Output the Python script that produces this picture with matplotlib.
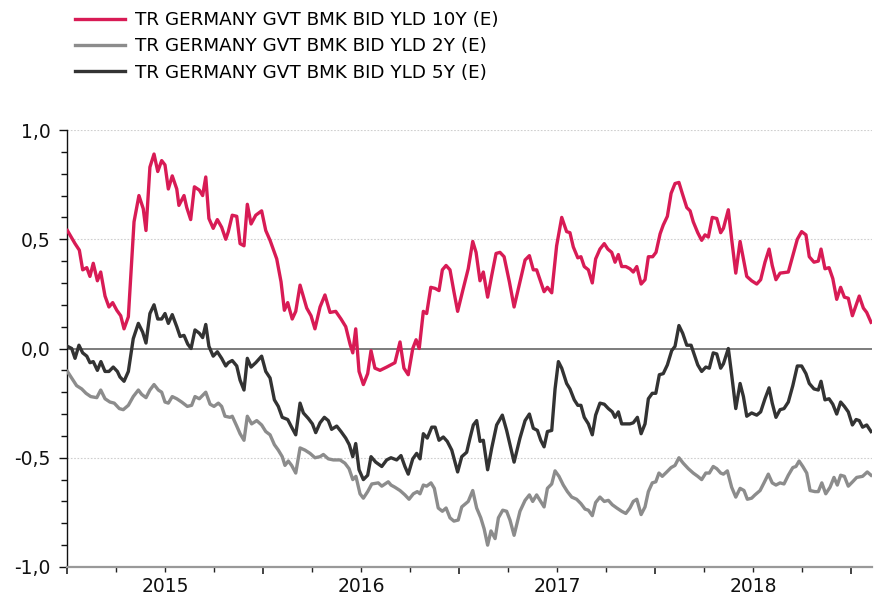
import numpy as np
import matplotlib
matplotlib.use("Agg")
import matplotlib.pyplot as plt
from matplotlib.ticker import FixedLocator, MultipleLocator
import matplotlib.transforms as mtransforms

plt.rcParams['font.family'] = ['DejaVu Sans']

# time as years since 2015-01-01 (weekly-ish turning points)
t10 = [0.002, 0.041, 0.063, 0.080, 0.101, 0.117, 0.134, 0.155, 0.172, 0.194, 0.214, 0.233, 0.254, 0.274,
       0.291, 0.313, 0.342, 0.367, 0.389, 0.403, 0.423, 0.444, 0.463, 0.483, 0.500, 0.517, 0.537, 0.560,
       0.571, 0.597, 0.611, 0.631, 0.650, 0.675, 0.692, 0.708, 0.724, 0.746, 0.767, 0.789, 0.810, 0.823,
       0.843, 0.866, 0.883, 0.903, 0.920, 0.939, 0.963, 0.993, 1.014, 1.036, 1.070, 1.092, 1.109, 1.126,
       1.149, 1.167, 1.189, 1.223, 1.245, 1.265, 1.291, 1.316, 1.342, 1.371, 1.398, 1.422, 1.444, 1.458,
       1.473, 1.490, 1.512, 1.534, 1.551, 1.571, 1.597, 1.631, 1.673, 1.699, 1.719, 1.741, 1.764, 1.781,
       1.797, 1.818, 1.835, 1.856, 1.878, 1.898, 1.915, 1.934, 1.954, 1.974, 1.993, 2.019, 2.047, 2.070,
       2.087, 2.107, 2.124, 2.146, 2.167, 2.189, 2.209, 2.230, 2.257, 2.281, 2.311, 2.337, 2.359, 2.379,
       2.396, 2.417, 2.434, 2.451, 2.473, 2.498, 2.524, 2.549, 2.566, 2.583, 2.606, 2.622, 2.639, 2.660,
       2.680, 2.697, 2.719, 2.741, 2.759, 2.779, 2.796, 2.813, 2.830, 2.851, 2.872, 2.889, 2.907, 2.929,
       2.949, 2.966, 2.988, 3.005, 3.026, 3.042, 3.063, 3.082, 3.102, 3.122, 3.139, 3.162, 3.179, 3.195,
       3.218, 3.238, 3.255, 3.272, 3.292, 3.315, 3.335, 3.349, 3.374, 3.391, 3.412, 3.434, 3.451, 3.468,
       3.493, 3.519, 3.539, 3.561, 3.582, 3.598, 3.617, 3.638, 3.680, 3.703, 3.726, 3.748, 3.770, 3.787,
       3.811, 3.833, 3.847, 3.867, 3.888, 3.907, 3.927, 3.947, 3.966, 3.986, 4.007, 4.042, 4.063, 4.080,
       4.102]
y10 = [0.54, 0.48, 0.45, 0.36, 0.37, 0.33, 0.39, 0.31, 0.35, 0.24, 0.19, 0.21, 0.175, 0.15,
       0.09, 0.145, 0.58, 0.70, 0.64, 0.54, 0.83, 0.89, 0.81, 0.86, 0.84, 0.73, 0.79, 0.73,
       0.655, 0.70, 0.645, 0.59, 0.74, 0.725, 0.70, 0.785, 0.595, 0.55, 0.59, 0.555, 0.50, 0.535,
       0.61, 0.605, 0.48, 0.47, 0.66, 0.57, 0.61, 0.63, 0.54, 0.495, 0.41, 0.305, 0.175, 0.21,
       0.135, 0.17, 0.29, 0.185, 0.15, 0.09, 0.19, 0.245, 0.165, 0.17, 0.135, 0.10, 0.02, -0.02,
       0.09, -0.105, -0.165, -0.115, -0.01, -0.09, -0.10, -0.085, -0.065, 0.03, -0.09, -0.12, 0.0, 0.04,
       0.0, 0.17, 0.16, 0.28, 0.275, 0.265, 0.36, 0.38, 0.36, 0.26, 0.17, 0.265, 0.365, 0.49,
       0.44, 0.31, 0.35, 0.235, 0.335, 0.435, 0.44, 0.42, 0.305, 0.19, 0.305, 0.405, 0.425, 0.36,
       0.36, 0.305, 0.26, 0.28, 0.255, 0.47, 0.60, 0.535, 0.53, 0.465, 0.415, 0.42, 0.375, 0.36,
       0.30, 0.41, 0.455, 0.48, 0.455, 0.44, 0.395, 0.43, 0.375, 0.375, 0.365, 0.35, 0.375, 0.295,
       0.315, 0.42, 0.42, 0.44, 0.525, 0.565, 0.605, 0.71, 0.755, 0.76, 0.71, 0.645, 0.63, 0.58,
       0.53, 0.495, 0.52, 0.51, 0.60, 0.595, 0.53, 0.55, 0.635, 0.50, 0.345, 0.49, 0.41, 0.33,
       0.31, 0.295, 0.315, 0.395, 0.455, 0.38, 0.315, 0.345, 0.35, 0.425, 0.50, 0.535, 0.52, 0.42,
       0.395, 0.40, 0.455, 0.365, 0.37, 0.32, 0.225, 0.28, 0.235, 0.23, 0.15, 0.24, 0.185, 0.165,
       0.12]

t2 = [0.002, 0.024, 0.049, 0.075, 0.097, 0.121, 0.152, 0.172, 0.194, 0.219, 0.241, 0.267, 0.287, 0.313,
      0.338, 0.364, 0.381, 0.403, 0.423, 0.444, 0.466, 0.483, 0.500, 0.517, 0.537, 0.560, 0.585, 0.614,
      0.636, 0.653, 0.675, 0.708, 0.730, 0.750, 0.772, 0.789, 0.806, 0.832, 0.843, 0.866, 0.883, 0.903,
      0.920, 0.942, 0.968, 0.993, 1.014, 1.036, 1.058, 1.078, 1.098, 1.112, 1.129, 1.146, 1.167, 1.189,
      1.214, 1.240, 1.265, 1.291, 1.308, 1.333, 1.359, 1.393, 1.418, 1.439, 1.458, 1.474, 1.495, 1.512,
      1.534, 1.555, 1.588, 1.606, 1.639, 1.653, 1.673, 1.699, 1.724, 1.745, 1.767, 1.787, 1.801, 1.818,
      1.835, 1.857, 1.874, 1.894, 1.915, 1.934, 1.954, 1.974, 1.996, 2.014, 2.047, 2.070, 2.090, 2.111,
      2.128, 2.146, 2.163, 2.184, 2.201, 2.223, 2.243, 2.260, 2.281, 2.311, 2.337, 2.359, 2.376, 2.396,
      2.417, 2.434, 2.451, 2.473, 2.490, 2.510, 2.532, 2.553, 2.575, 2.600, 2.622, 2.643, 2.660, 2.680,
      2.697, 2.719, 2.741, 2.762, 2.782, 2.805, 2.830, 2.851, 2.872, 2.889, 2.907, 2.929, 2.949, 2.966,
      2.986, 3.004, 3.020, 3.037, 3.060, 3.082, 3.102, 3.122, 3.144, 3.170, 3.195, 3.218, 3.238, 3.259,
      3.277, 3.297, 3.315, 3.335, 3.349, 3.369, 3.391, 3.412, 3.434, 3.454, 3.471, 3.493, 3.510, 3.536,
      3.556, 3.578, 3.598, 3.617, 3.638, 3.658, 3.680, 3.703, 3.719, 3.735, 3.754, 3.774, 3.791, 3.816,
      3.833, 3.851, 3.871, 3.893, 3.913, 3.930, 3.947, 3.966, 3.986, 4.008, 4.029, 4.059, 4.083, 4.102]
y2 = [-0.105, -0.135, -0.17, -0.185, -0.205, -0.22, -0.225, -0.19, -0.23, -0.245, -0.25, -0.275, -0.28, -0.26,
      -0.22, -0.19, -0.21, -0.225, -0.19, -0.165, -0.19, -0.20, -0.245, -0.25, -0.22, -0.23, -0.245, -0.265,
      -0.26, -0.22, -0.23, -0.20, -0.255, -0.265, -0.25, -0.265, -0.31, -0.315, -0.31, -0.355, -0.39, -0.42,
      -0.31, -0.345, -0.33, -0.35, -0.38, -0.395, -0.44, -0.465, -0.495, -0.535, -0.515, -0.535, -0.57, -0.455,
      -0.465, -0.48, -0.50, -0.495, -0.485, -0.505, -0.51, -0.51, -0.525, -0.55, -0.60, -0.585, -0.665, -0.685,
      -0.655, -0.62, -0.615, -0.63, -0.61, -0.625, -0.635, -0.65, -0.67, -0.69, -0.665, -0.655, -0.665, -0.625,
      -0.63, -0.615, -0.64, -0.73, -0.745, -0.73, -0.775, -0.79, -0.785, -0.725, -0.70, -0.65, -0.73, -0.775,
      -0.825, -0.90, -0.835, -0.87, -0.775, -0.74, -0.745, -0.785, -0.855, -0.745, -0.695, -0.67, -0.70, -0.67,
      -0.70, -0.725, -0.64, -0.62, -0.56, -0.585, -0.625, -0.655, -0.68, -0.69, -0.71, -0.735, -0.74, -0.765,
      -0.705, -0.68, -0.70, -0.695, -0.715, -0.73, -0.745, -0.755, -0.73, -0.70, -0.69, -0.76, -0.725, -0.655,
      -0.615, -0.61, -0.57, -0.585, -0.565, -0.545, -0.535, -0.50, -0.525, -0.55, -0.57, -0.585, -0.60, -0.57,
      -0.57, -0.54, -0.55, -0.57, -0.575, -0.56, -0.635, -0.68, -0.64, -0.65, -0.69, -0.685, -0.67, -0.65,
      -0.615, -0.575, -0.615, -0.625, -0.615, -0.62, -0.58, -0.545, -0.54, -0.515, -0.54, -0.57, -0.65, -0.655,
      -0.655, -0.615, -0.665, -0.635, -0.59, -0.625, -0.58, -0.585, -0.63, -0.61, -0.59, -0.585, -0.565, -0.58]

t5 = [0.002, 0.024, 0.041, 0.061, 0.080, 0.101, 0.117, 0.134, 0.155, 0.173, 0.194, 0.214, 0.236, 0.257,
      0.270, 0.291, 0.313, 0.338, 0.364, 0.386, 0.403, 0.423, 0.444, 0.463, 0.483, 0.500, 0.517, 0.537,
      0.560, 0.577, 0.597, 0.616, 0.633, 0.653, 0.675, 0.692, 0.708, 0.724, 0.746, 0.767, 0.789, 0.810,
      0.823, 0.843, 0.866, 0.883, 0.903, 0.920, 0.939, 0.963, 0.993, 1.014, 1.036, 1.058, 1.078, 1.098,
      1.126, 1.146, 1.167, 1.189, 1.206, 1.231, 1.252, 1.269, 1.291, 1.313, 1.333, 1.350, 1.376, 1.398,
      1.422, 1.440, 1.458, 1.473, 1.490, 1.512, 1.534, 1.551, 1.575, 1.606, 1.631, 1.653, 1.682, 1.704,
      1.724, 1.741, 1.764, 1.784, 1.801, 1.818, 1.838, 1.861, 1.878, 1.898, 1.920, 1.940, 1.963, 1.993,
      2.014, 2.039, 2.056, 2.073, 2.090, 2.107, 2.124, 2.146, 2.167, 2.192, 2.221, 2.243, 2.281, 2.311,
      2.337, 2.359, 2.379, 2.400, 2.417, 2.434, 2.451, 2.473, 2.490, 2.507, 2.524, 2.549, 2.566, 2.588,
      2.606, 2.622, 2.639, 2.660, 2.680, 2.697, 2.719, 2.741, 2.762, 2.782, 2.796, 2.813, 2.830, 2.872,
      2.889, 2.910, 2.929, 2.949, 2.966, 2.986, 3.004, 3.022, 3.042, 3.063, 3.085, 3.102, 3.122, 3.141,
      3.162, 3.184, 3.201, 3.218, 3.238, 3.259, 3.277, 3.297, 3.315, 3.335, 3.349, 3.374, 3.391, 3.412,
      3.434, 3.451, 3.468, 3.493, 3.519, 3.539, 3.561, 3.582, 3.598, 3.617, 3.638, 3.658, 3.680, 3.703,
      3.726, 3.748, 3.770, 3.787, 3.811, 3.833, 3.847, 3.867, 3.888, 3.907, 3.927, 3.947, 3.966, 3.986,
      4.007, 4.026, 4.042, 4.059, 4.080, 4.102]
y5 = [0.01, 0.0, -0.045, 0.015, -0.02, -0.035, -0.065, -0.06, -0.10, -0.06, -0.105, -0.105, -0.085, -0.105,
      -0.13, -0.15, -0.105, 0.045, 0.115, 0.075, 0.025, 0.16, 0.20, 0.135, 0.135, 0.16, 0.115, 0.155,
      0.10, 0.055, 0.06, 0.02, 0.0, 0.085, 0.07, 0.05, 0.11, 0.01, -0.035, -0.015, -0.045, -0.08,
      -0.065, -0.055, -0.08, -0.145, -0.19, -0.045, -0.085, -0.065, -0.035, -0.105, -0.135, -0.235, -0.265, -0.315,
      -0.325, -0.36, -0.395, -0.25, -0.295, -0.32, -0.345, -0.385, -0.34, -0.315, -0.33, -0.37, -0.355, -0.38,
      -0.41, -0.44, -0.495, -0.435, -0.555, -0.60, -0.58, -0.495, -0.52, -0.54, -0.51, -0.50, -0.51, -0.49,
      -0.54, -0.575, -0.505, -0.48, -0.505, -0.39, -0.41, -0.36, -0.36, -0.42, -0.405, -0.425, -0.465, -0.565,
      -0.495, -0.475, -0.41, -0.35, -0.33, -0.425, -0.42, -0.555, -0.455, -0.35, -0.305, -0.375, -0.52, -0.41,
      -0.33, -0.30, -0.365, -0.375, -0.42, -0.45, -0.38, -0.375, -0.185, -0.06, -0.09, -0.16, -0.185, -0.235,
      -0.26, -0.26, -0.315, -0.345, -0.395, -0.305, -0.25, -0.255, -0.275, -0.29, -0.315, -0.29, -0.345, -0.345,
      -0.34, -0.315, -0.39, -0.345, -0.23, -0.205, -0.205, -0.12, -0.115, -0.075, -0.01, 0.01, 0.105, 0.07,
      0.015, 0.015, -0.03, -0.075, -0.105, -0.085, -0.09, -0.02, -0.025, -0.09, -0.07, 0.0, -0.12, -0.275,
      -0.16, -0.22, -0.31, -0.295, -0.305, -0.29, -0.23, -0.18, -0.25, -0.315, -0.28, -0.275, -0.245, -0.17,
      -0.08, -0.08, -0.115, -0.16, -0.185, -0.19, -0.15, -0.235, -0.23, -0.255, -0.30, -0.245, -0.265, -0.29,
      -0.35, -0.325, -0.33, -0.36, -0.35, -0.38]

years = [2015, 2016, 2017, 2018]
y_ticks = [-1.0, -0.5, 0.0, 0.5, 1.0]
y_labels = ['-1,0', '-0,5', '0,0', '0,5', '1,0']
labels = ['TR GERMANY GVT BMK BID YLD 10Y (E)',
          'TR GERMANY GVT BMK BID YLD 2Y (E)',
          'TR GERMANY GVT BMK BID YLD 5Y (E)']
colors = ['#D81B55', '#8C8C8C', '#333333']

start = 2015.0
x10 = start + np.array(t10)
x2 = start + np.array(t2)
x5 = start + np.array(t5)

fig = plt.figure(figsize=(8.77, 6.04), dpi=100)
ax = fig.add_axes([67 / 877, 1 - 567 / 604, (872 - 67) / 877, (567 - 130) / 604])

for yv in [1.0, 0.5, -0.5]:
    ax.axhline(yv, color='#cfcfcf', lw=0.8, ls=(0, (1.5, 1.5)), zorder=0)
ax.axhline(0.0, color='#666666', lw=1.2, zorder=1)

l10, = ax.plot(x10, y10, color=colors[0], lw=2.4, solid_joinstyle='round', zorder=3)
l2, = ax.plot(x2, y2, color=colors[1], lw=2.4, solid_joinstyle='round', zorder=3)
l5, = ax.plot(x5, y5, color=colors[2], lw=2.4, solid_joinstyle='round', zorder=3)

ax.set_xlim(2015.0, 2019.107)
ax.set_ylim(-1.0, 1.0)

ax.spines['top'].set_visible(False)
ax.spines['right'].set_visible(False)
ax.spines['left'].set_color('#111111')
ax.spines['left'].set_linewidth(1.0)
ax.spines['bottom'].set_color('#999999')
ax.spines['bottom'].set_linewidth(1.6)

ax.set_yticks(y_ticks)
ax.set_yticklabels(y_labels)
ax.yaxis.set_minor_locator(MultipleLocator(0.1))
ax.tick_params(axis='y', which='major', length=6, width=1, color='#111111', labelsize=13.5, pad=6,
               labelcolor='#111111')
ax.tick_params(axis='y', which='minor', length=4, width=1, color='#111111')

ax.xaxis.set_major_locator(FixedLocator([2015, 2016, 2017, 2018, 2019]))
ax.xaxis.set_minor_locator(MultipleLocator(0.25))
ax.tick_params(axis='x', which='major', length=5, width=1.2, color='#222222', labelbottom=False)
ax.tick_params(axis='x', which='minor', length=3.5, width=1, color='#222222')

trans = mtransforms.blended_transform_factory(ax.transData, ax.transAxes)
for yr in years:
    ax.text(yr + 0.5, -0.022, str(yr), transform=trans, ha='center', va='top', fontsize=13.5, color='#111111')

fig.legend([l10, l2, l5], labels, loc='upper left', bbox_to_anchor=(75 / 877, 1 - 11 / 604),
           frameon=False, fontsize=13.2, handlelength=2.75, handletextpad=0.5, labelspacing=0.46,
           borderaxespad=0, borderpad=0)

fig.savefig('out.png', dpi=100)
